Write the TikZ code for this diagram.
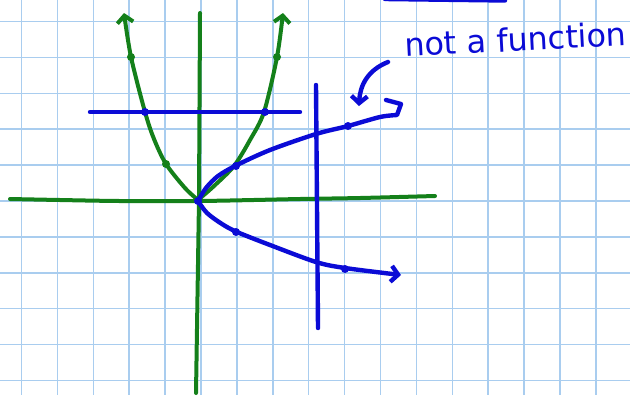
\documentclass[tikz,border=0pt]{standalone}
\usepackage{fontspec}
\newfontfamily\handfont{DejaVu Sans}
\usetikzlibrary{arrows.meta}
\definecolor{gridblue}{HTML}{A9CDEF}
\definecolor{penblue}{HTML}{0B0BD6}
\definecolor{pengreen}{HTML}{14801A}

\begin{document}
\begin{tikzpicture}[x=1bp,y=-1bp,
  gridline/.style={draw=gridblue,line width=1.5bp},
  greenpen/.style={draw=pengreen,line width=4bp,line cap=round,line join=round},
  bluepen/.style={draw=penblue,line width=4.4bp,line cap=round,line join=round},
  barb/.style={-{Straight Barb[length=7bp,width=16bp]}},
  bead/.style={radius=4bp}]
  \clip (0,0) rectangle (630,395);
  \fill[white] (0,0) rectangle (630,395);
  % graph paper
  \foreach \k in {0,...,16}
    \draw[gridline] ({21.5+35.9*\k},0) -- ++(0,395);
  \foreach \k in {0,...,10}
    \draw[gridline] (0,{21.5+35.9*\k}) -- ++(630,0);
  % axes
  \draw[greenpen] plot[smooth] coordinates
    {(10,199) (60,200) (120,201) (200,201) (300,199) (360,198) (435,196)};
  \draw[greenpen] (200,13) -- (199,200) -- (196,393);
  % y = x^2
  \draw[greenpen,barb] plot[smooth] coordinates
    {(198,200) (185,188) (166,164) (154,139) (145,112) (131,57) (124,13)};
  \draw[greenpen,barb] plot[smooth] coordinates
    {(198,200) (214,186) (234,166) (250,140) (264,112) (277,57) (283,13)};
  \foreach \p in {(131,57),(166,164),(277,57)}
    \fill[pengreen] \p circle[bead];
  % horizontal and vertical line tests
  \draw[bluepen] (90,112) -- (300,112);
  \draw[bluepen] (316,85) -- (318,328);
  % x = y^2
  \draw[bluepen] plot[smooth] coordinates
    {(198,201) (206,188) (218,176) (237,165) (270,150) (316,134) (348,126) (380,117) (397,115)}
    -- (401,104) -- (386,100);
  \draw[bluepen,barb] plot[smooth] coordinates
    {(198,201) (207,213) (222,224) (237,232) (270,245) (316,262) (345,268) (401,275)};
  \foreach \p in {(145,112),(265,112),(236,166),(348,126),(236,232),(345,269),(198,201)}
    \fill[penblue] \p circle[bead];
  \draw[bluepen] (385,-1) -- (505,0.5);
  % label
  \node[text=penblue,font=\handfont\fontsize{32}{32}\selectfont,rotate=3,
        anchor=base west,inner sep=0pt] (remark) at (405,57) {not a function};
  \coordinate (remarkfoot) at (388,62);
  \draw[bluepen,barb] (remarkfoot) .. controls (368,70) and (360,85) .. (359,106);
\end{tikzpicture}
\end{document}
